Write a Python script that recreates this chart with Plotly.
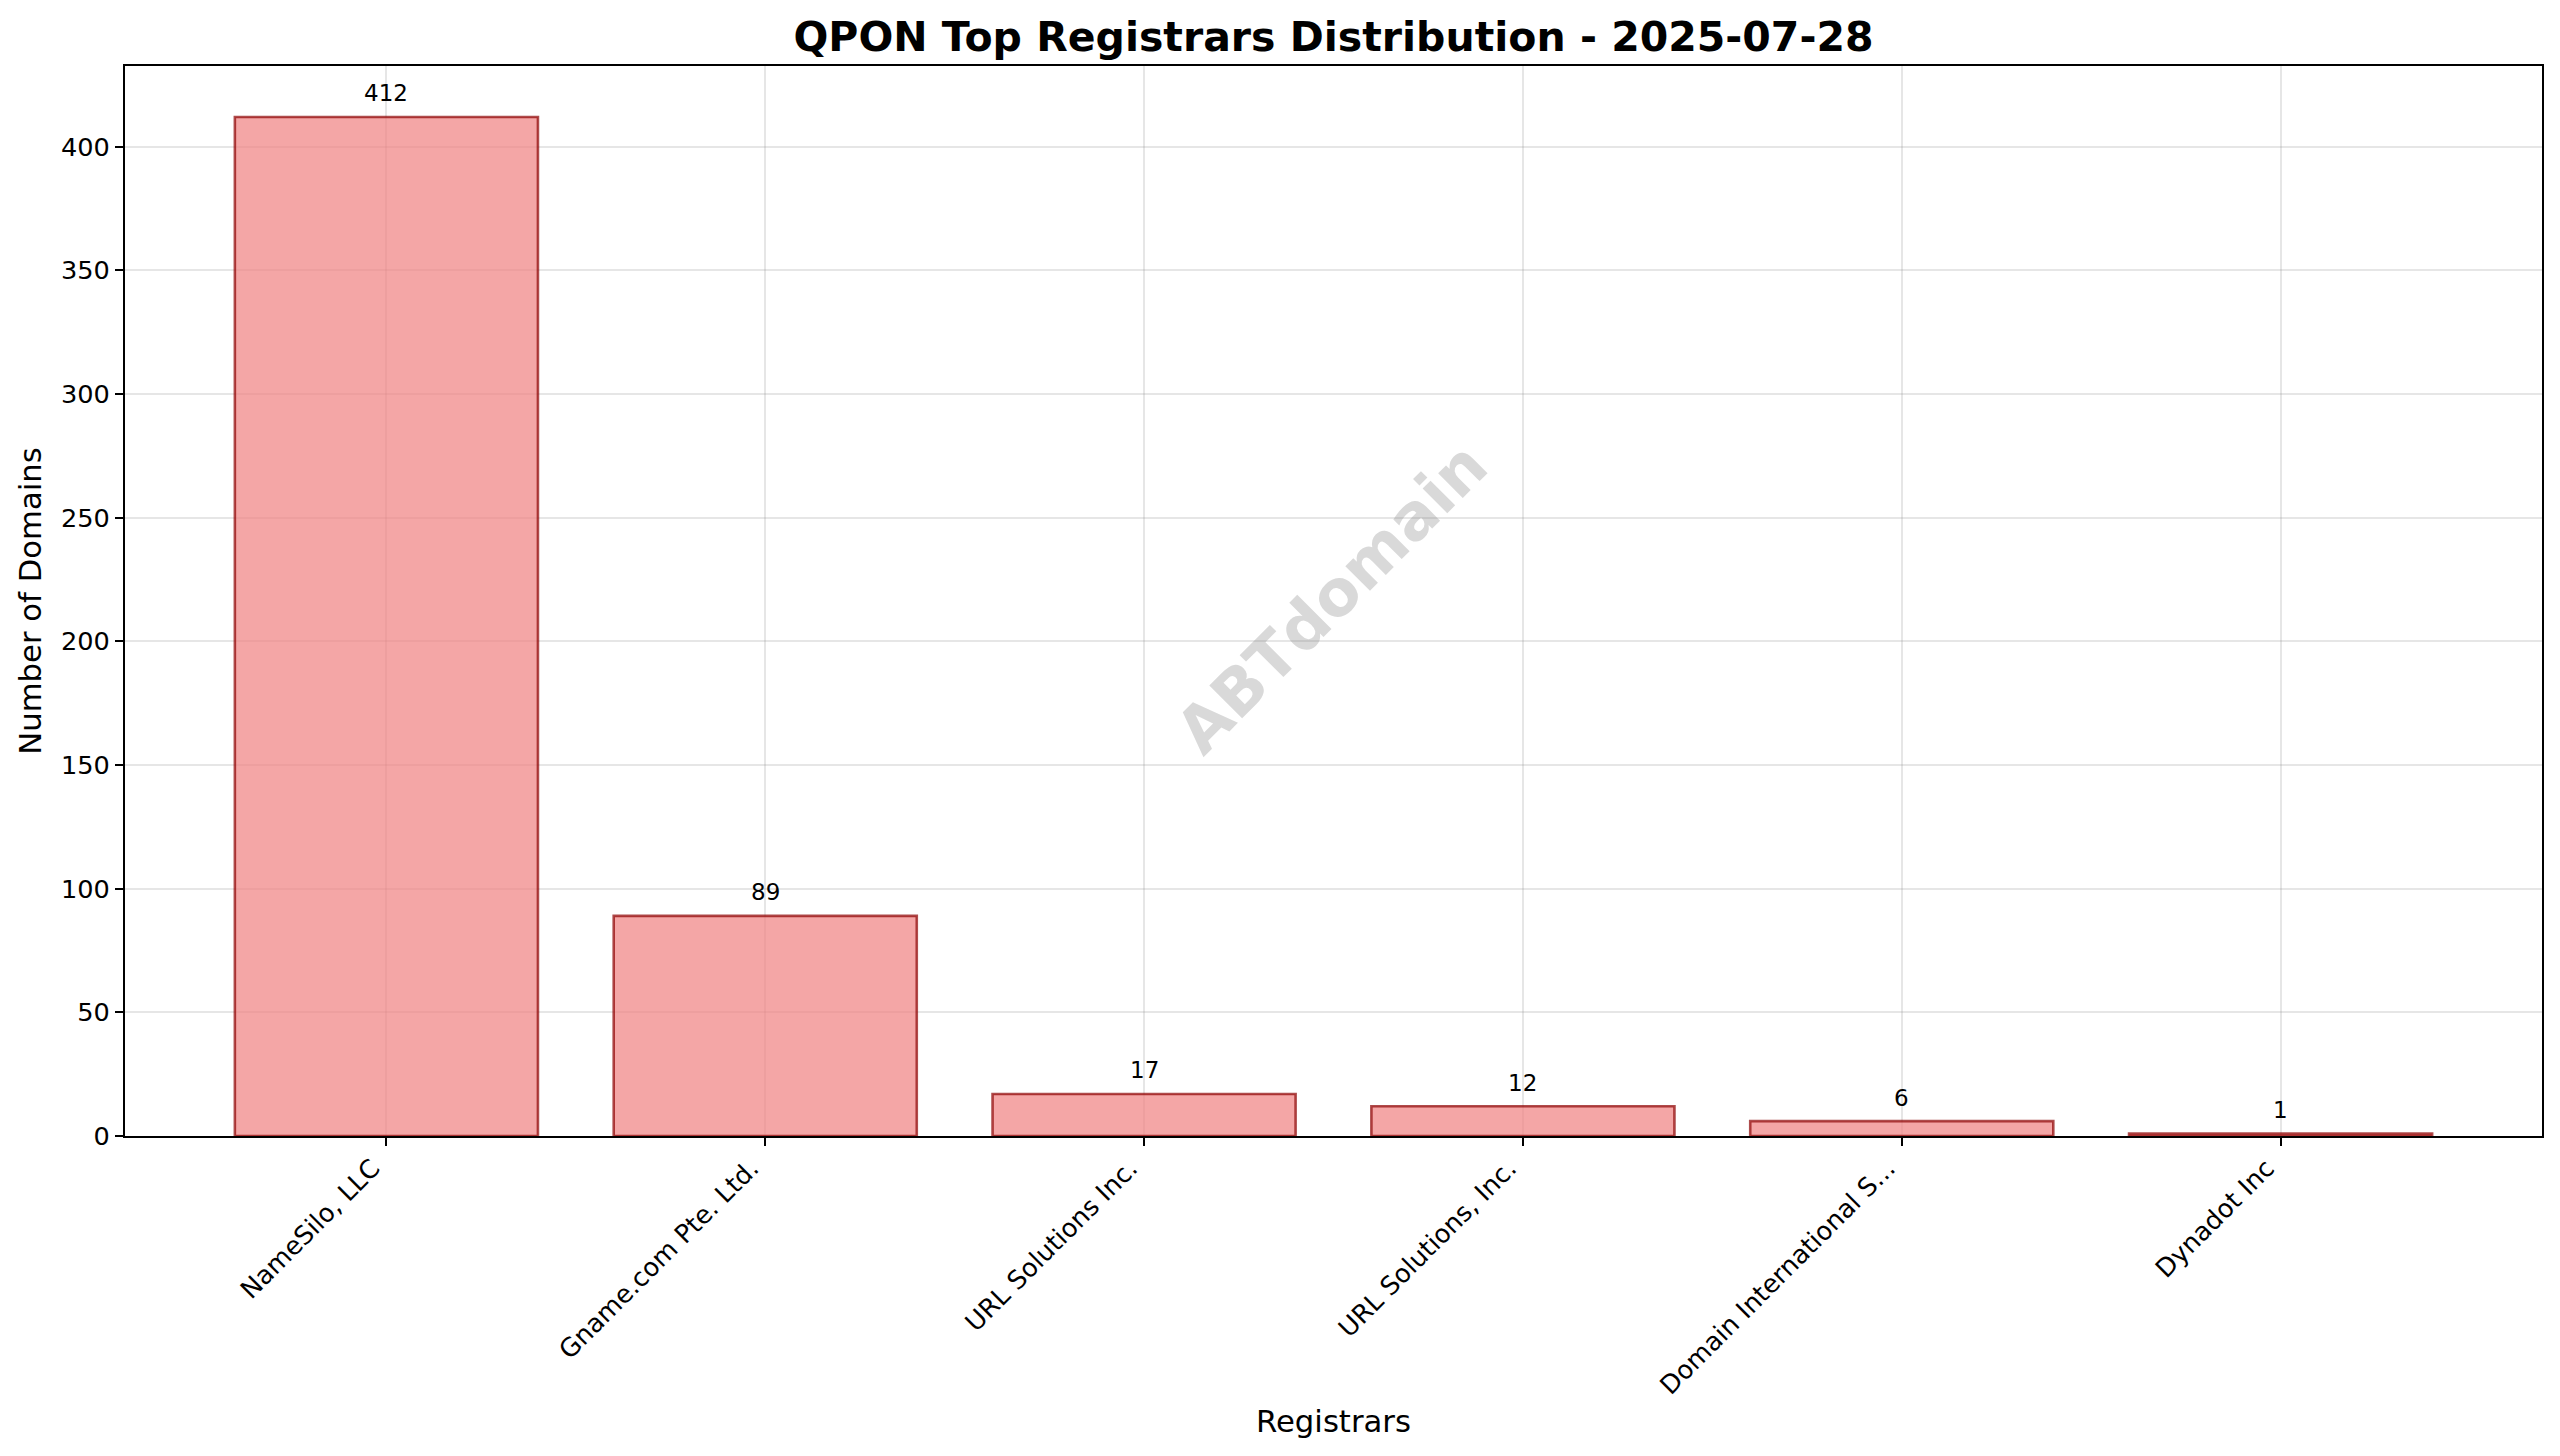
import plotly.graph_objects as go

registrars = ["NameSilo, LLC", "Gname.com Pte. Ltd.", "URL Solutions Inc.",
              "URL Solutions, Inc.", "Domain International S...", "Dynadot Inc"]
domains = [412, 89, 17, 12, 6, 1]
y_ticks = [0, 50, 100, 150, 200, 250, 300, 350, 400]

FONT = "DejaVu Sans"
GRID = "rgba(128,128,128,0.2)"

fig = go.Figure()

# --- bars ---
fig.add_trace(go.Bar(
    x=registrars, y=domains, width=0.8,
    marker=dict(color="rgba(240,128,128,0.7)",
                line=dict(color="rgba(139,0,0,0.7)", width=2.6)),
    showlegend=False
))

# --- value labels above the bars ---
for name, val in zip(registrars, domains):
    fig.add_annotation(x=name, y=val, text=str(val), showarrow=False,
                       yanchor="bottom", yshift=8.5,
                       font=dict(family=FONT, size=23, color="black"))

# --- watermark ---
fig.add_annotation(xref="paper", yref="paper", x=0.5, y=0.5, text="<b>ABTdomain</b>",
                   showarrow=False, textangle=-45, xshift=-2, yshift=3,
                   font=dict(family=FONT, size=63.7, color="rgba(128,128,128,0.3)"))

# the page body adds 8px around the figure, so width/height/margins are 8 less
fig.update_layout(
    width=2552, height=1448,
    title=dict(text="<b>QPON Top Registrars Distribution - 2025-07-28</b>",
               x=0.5, xref="paper", xanchor="center", y=1 - 29 / 1448, yanchor="middle",
               font=dict(family=FONT, size=41, color="black")),
    font=dict(family=FONT, size=25.6, color="black"),
    paper_bgcolor="white", plot_bgcolor="white",
    margin=dict(l=116.5, r=18, t=58, b=320, autoexpand=False),
    bargap=0.2,
    xaxis=dict(title=dict(text="Registrars", font=dict(size=30.7), standoff=11),
               range=[-0.69, 5.69], tickangle=-45, categoryorder="array",
               categoryarray=registrars, showgrid=True, gridcolor=GRID, gridwidth=2,
               showline=True, linecolor="black", linewidth=2, mirror=True,
               ticks="outside", ticklen=8, tickwidth=2, tickcolor="black",
               ticklabelshift=-14, ticklabelstandoff=-3),
    yaxis=dict(title=dict(text="Number of Domains", font=dict(size=30.7), standoff=10),
               range=[0, 432.6], tickmode="array", tickvals=y_ticks,
               showgrid=True, gridcolor=GRID, gridwidth=2, zeroline=False,
               showline=True, linecolor="black", linewidth=2, mirror=True,
               ticks="outside", ticklen=8, tickwidth=2, tickcolor="black"),
)

fig.write_html("out.html")
